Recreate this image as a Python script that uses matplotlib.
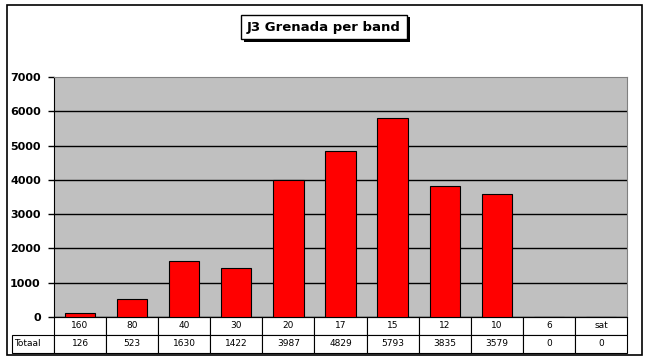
import matplotlib
matplotlib.use('Agg')
from matplotlib import pyplot as plt
from matplotlib.table import Table
from matplotlib.patches import Rectangle
import matplotlib.patheffects as pe

bands = ['160', '80', '40', '30', '20', '17', '15', '12', '10', '6', 'sat']
totals = [126, 523, 1630, 1422, 3987, 4829, 5793, 3835, 3579, 0, 0]
yticks = [0, 1000, 2000, 3000, 4000, 5000, 6000, 7000]
title = 'J3 Grenada per band'
row_label = 'Totaal'

W, H = 650, 359

def fx(px):
    return px / W

def fy(py):
    return 1 - py / H

def main():
    fig = plt.figure(figsize=(6.5, 3.59), dpi=100)
    fig.patch.set_facecolor('white')

    # outer chart frame
    frame = Rectangle((fx(7), fy(355)), fx(642) - fx(7), fy(5) - fy(355),
                      transform=fig.transFigure, fill=False, ec='black', lw=1.2)
    fig.patches.append(frame)

    left, right, top, bottom = 54, 627, 77, 317
    ax = fig.add_axes([fx(left), fy(bottom), fx(right) - fx(left), fy(top) - fy(bottom)])
    ax.set_facecolor('#C0C0C0')
    x = list(range(len(bands)))
    ax.bar(x, totals, width=0.58, color='#FF0000', edgecolor='black', linewidth=0.8, zorder=3)
    ax.set_xlim(-0.5, len(bands) - 0.5)
    ax.set_ylim(0, 7000)
    ax.set_yticks(yticks)
    ax.set_yticklabels([str(v) for v in yticks], fontsize=8, fontweight='bold', family='DejaVu Sans')
    ax.tick_params(axis='y', length=4.5, width=1, pad=5, direction='out')
    ax.set_xticks([])
    ax.yaxis.grid(True, color='black', linewidth=1)
    ax.get_ygridlines()[-1].set_visible(False)
    ax.set_axisbelow(True)
    for s in ['top', 'right']:
        ax.spines[s].set_color('#808080')
    ax.spines['left'].set_color('black')
    ax.spines['bottom'].set_color('black')

    # data table under the plot
    lw_px = 42
    cw_px = (right - left) / len(bands)
    total_w = lw_px + cw_px * len(bands)
    row_h = 1 / 2
    tb = Table(ax, bbox=[-lw_px / (right - left), -36 / (bottom - top),
                         total_w / (right - left), 36 / (bottom - top)])
    rows = [bands, [str(v) for v in totals]]
    labels = ['', row_label]
    for r in range(2):
        c0 = tb.add_cell(r, 0, width=lw_px / total_w, height=row_h, text=labels[r], loc='left')
        c0.visible_edges = '' if r == 0 else 'closed'
        for c in range(len(bands)):
            tb.add_cell(r, c + 1, width=cw_px / total_w, height=row_h, text=rows[r][c], loc='center')
    tb.auto_set_font_size(False)
    tb.set_fontsize(6.5)
    for cell in tb.get_celld().values():
        cell.set_linewidth(0.8)
        cell.PAD = 0.05
    ax.add_table(tb)

    t = fig.text(fx(324), fy(27), title, ha='center', va='center', fontsize=9.5,
                 fontweight='bold', family='DejaVu Sans',
                 bbox=dict(boxstyle='square,pad=0.45', fc='white', ec='black', lw=1))
    t.get_bbox_patch().set_path_effects([pe.SimplePatchShadow(offset=(2, -2), shadow_rgbFace='black', alpha=1), pe.Normal()])

    fig.savefig('out.png', dpi=100)


if __name__ == "__main__":
    main()
